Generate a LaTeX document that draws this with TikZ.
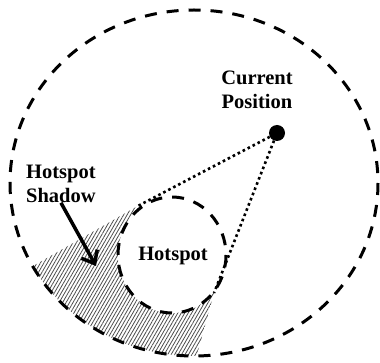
\documentclass[tikz,border=0pt]{standalone}
\usepackage{fontspec}
\setmainfont{Liberation Serif}
\usetikzlibrary{arrows.meta, patterns.meta}

\begin{document}
\begin{tikzpicture}[
    x=1pt, y=-1pt,
    dashring/.style={
        draw,
        line width=3pt,
        dash pattern=on 12pt off 10pt
    },
    sightline/.style={
        line width=2.6pt,
        dash pattern=on 2.6pt off 3pt
    },
    labeltext/.style={
        font=\fontsize{20.5}{23.5}\selectfont\bfseries,
        inner sep=0pt
    },
    pointer/.style={-{Straight Barb[length=11pt, width=18pt]}, line width=3.5pt}
]
\useasboundingbox (0,0) rectangle (380,363);

% tangent points and shadow corners
\coordinate (tleft) at (136,207);
\coordinate (tright) at (214,293);
\coordinate (shadowtip) at (96,266);

% hotspot shadow
\begin{scope}
    \clip (194,183) ellipse [x radius=184, y radius=173];
    \fill[pattern={Lines[angle=60, distance=3pt, line width=0.8pt]},
          pattern color=black!70]
        (tleft) -- (0,285) -- (0,380) -- (190,380) -- (tright) -- cycle;
\end{scope}

% range and hotspot
\draw[dashring] (194,183) ellipse [x radius=184, y radius=173];
\fill[white] (172,255) ellipse [x radius=54, y radius=58];
\draw[dashring] (172,255) ellipse [x radius=54, y radius=58];

\node[circle, fill=black, minimum size=16pt, inner sep=0pt] (current) at (277,133) {};

\draw[sightline] (current) -- (tleft);
\draw[sightline] (current) -- (tright);

\node[labeltext, align=center] (currentlbl) at (257,90) {Current\\Position};
\node[labeltext, align=left, anchor=west] (shadowlbl) at (26,184) {Hotspot\\Shadow};
\node[labeltext] (hotspotlbl) at (173,256) {Hotspot};

\draw[pointer] (shadowlbl.south) -- (shadowtip);

\end{tikzpicture}
\end{document}
